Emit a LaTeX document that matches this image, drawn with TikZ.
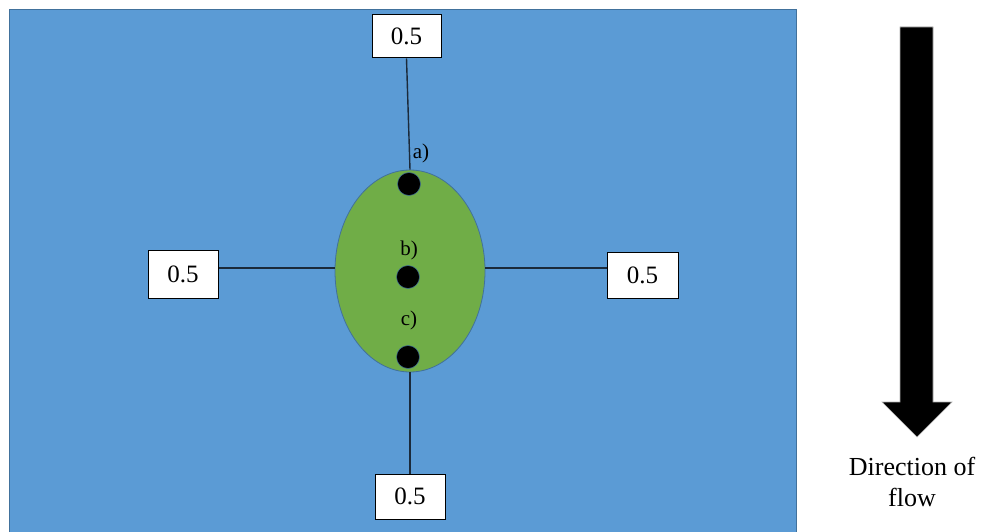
\documentclass[tikz,border=0pt]{standalone}
\usepackage{fontspec}
\setmainfont{Liberation Serif}
\usetikzlibrary{shapes.geometric,calc}
\definecolor{water}{HTML}{5B9BD5}
\definecolor{waterline}{HTML}{41719C}
\definecolor{leafgreen}{HTML}{70AD47}
\definecolor{wire}{HTML}{1B2A3A}
\tikzset{
  valbox/.style={draw=black, fill=white, line width=1pt, inner sep=0pt,
    minimum width=70pt, minimum height=45pt, font=\fontsize{25}{28}\selectfont},
  probe/.style={circle, fill=black, draw=waterline, line width=0.5pt,
    minimum size=23pt, inner sep=0pt},
  tag/.style={font=\fontsize{21}{24}\selectfont, inner sep=0pt},
  wireline/.style={draw=wire, line width=1.4pt}
}
\begin{document}
\begin{tikzpicture}[x=1pt,y=-1pt]
  \useasboundingbox (0,0) rectangle (984,532);
  \fill[white] (0,0) rectangle (984,532);
  % water domain
  \filldraw[fill=water, draw=waterline, line width=1pt] (9,10) rectangle (796,540);
  % leaf body
  \node[ellipse, fill=leafgreen, draw=waterline, line width=0.8pt,
        minimum width=150pt, minimum height=202pt, inner sep=0pt] (leaf) at (410,271) {};
  % value boxes
  \node[valbox, minimum width=69pt, minimum height=43pt] (tbox) at (406.5,36.5) {0.5};
  \node[valbox, minimum height=45pt] (bbox) at (410,496.5) {0.5};
  \node[valbox, minimum height=48pt] (lbox) at (183,274) {0.5};
  \node[valbox, minimum width=71pt, minimum height=46pt] (rbox) at (642.5,275) {0.5};
  % measurement points
  \node[probe] (pa) at (409,184) {};
  \node[probe] (pb) at (408,277) {};
  \node[probe] (pc) at (408,357) {};
  \node[tag] (la) at (421,153) {a)};
  \node[tag] (lb) at (409,250) {b)};
  \node[tag] (lc) at (409,320) {c)};
  % connectors
  \draw[wireline] (tbox.south) -- (leaf.north);
  \draw[wireline] (leaf.south) -- (bbox.north);
  \draw[wireline] ([yshift=6pt]lbox.east) -- ([yshift=3pt]leaf.west);
  \draw[wireline] ([yshift=3pt]leaf.east) -- ([yshift=7pt]rbox.west);
  % flow direction arrow
  \filldraw[fill=black, draw=gray!60, line width=0.6pt]
    (900,27) -- (933,27) -- (933,402) -- (952,402) -- (917,437)
    -- (882,402) -- (900,402) -- cycle;
  \node[align=center, font=\fontsize{26}{31}\selectfont, inner sep=0pt] (flowtxt)
    at (912,482) {Direction of\\flow};
\end{tikzpicture}
\end{document}
